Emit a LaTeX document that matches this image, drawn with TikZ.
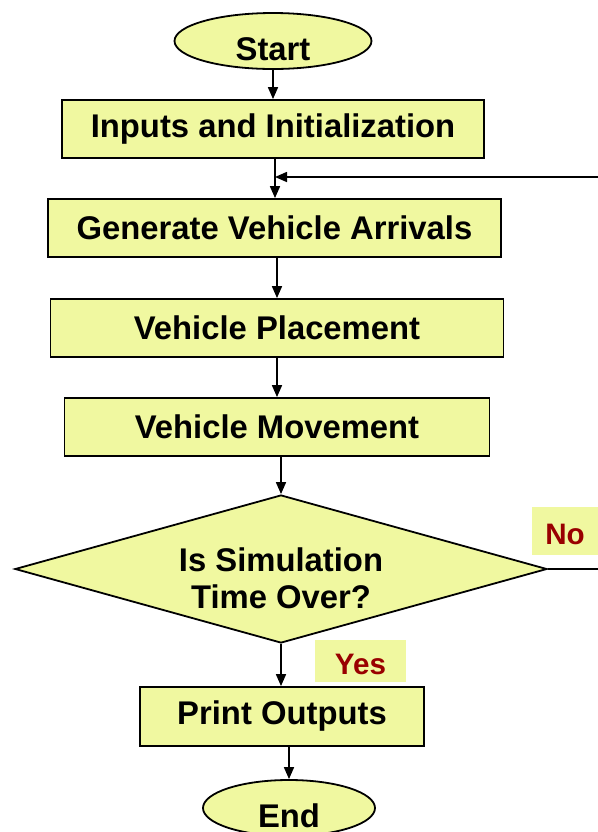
\documentclass[tikz,border=0pt]{standalone}
\usepackage{fontspec}
\setmainfont{Liberation Sans}
\usetikzlibrary{calc,positioning,arrows.meta,shapes.geometric}
\definecolor{boxyellow}{RGB}{240,248,160}
\definecolor{darkred}{RGB}{153,0,0}
\tikzset{
  wire/.style={line width=0.8pt},
  arrow/.style={wire, -{Triangle[length=6pt,width=5pt]}},
  box/.style={draw, fill=boxyellow, line width=0.9pt, inner sep=2pt, font=\bfseries\fontsize{16.4}{18.3}\selectfont},
  term/.style={box, ellipse, inner sep=0pt, text height=19pt, text depth=0pt},
  decision/.style={box, diamond, aspect=3.6, inner sep=0pt, align=center, text height=39.3pt, text depth=0pt},
  answer/.style={fill=boxyellow, inner sep=0pt, text=darkred, text height=13.4pt, text depth=0pt, font=\bfseries\fontsize{14.8}{17}\selectfont}
}
\begin{document}
\begin{tikzpicture}[x=0.5pt,y=-0.5pt]
  \useasboundingbox (0,0) rectangle (598,832);
  % start and set-up
  \node[term, minimum width=98.5pt, minimum height=28pt] (start) at (273,41) {Start};
  \node[box, minimum width=211pt, minimum height=29pt] (init) at (273,129) {Inputs and Initialization};
  % simulation steps
  \node[box, minimum width=226.5pt, minimum height=29pt] (gen) at (274.5,228) {Generate Vehicle Arrivals};
  \node[box, minimum width=226.5pt, minimum height=29pt] (place) at (277,328) {Vehicle Placement};
  \node[box, minimum width=212.5pt, minimum height=29pt] (move) at (277,427) {Vehicle Movement};
  % test
  \node[decision, minimum width=266pt, minimum height=74pt] (dec) at (281,569) {Is Simulation\\Time Over?};
  \node[answer, minimum width=33pt, minimum height=24pt] (no) at (565,531) {No};
  \node[answer, minimum width=45.5pt, minimum height=21pt] (yes) at (360.5,661) {Yes\hspace{5.5pt}};
  % end
  \node[box, minimum width=142pt, minimum height=29.5pt] (print) at (282,716.5) {Print Outputs};
  \node[term, minimum width=86pt, minimum height=28pt] (end) at (289,808) {End};
  \coordinate (loop) at (606,569);
  \coordinate (merge) at (275,177);
  % arrows
  \draw[arrow] (start.south) -- (start.south |- init.north);
  \draw[arrow] (merge |- init.south) -- (merge |- gen.north);
  \draw[arrow] (place.north |- gen.south) -- (place.north);
  \draw[arrow] (move.north |- place.south) -- (move.north);
  \draw[arrow] (move.south -| dec.north) -- (dec.north);
  \draw[arrow] (dec.south) -- (dec.south |- print.north);
  \draw[arrow] (print.south -| end.north) -- (end.north);
  \draw[arrow] (dec.east) -- (loop) |- (merge);
\end{tikzpicture}
\end{document}
